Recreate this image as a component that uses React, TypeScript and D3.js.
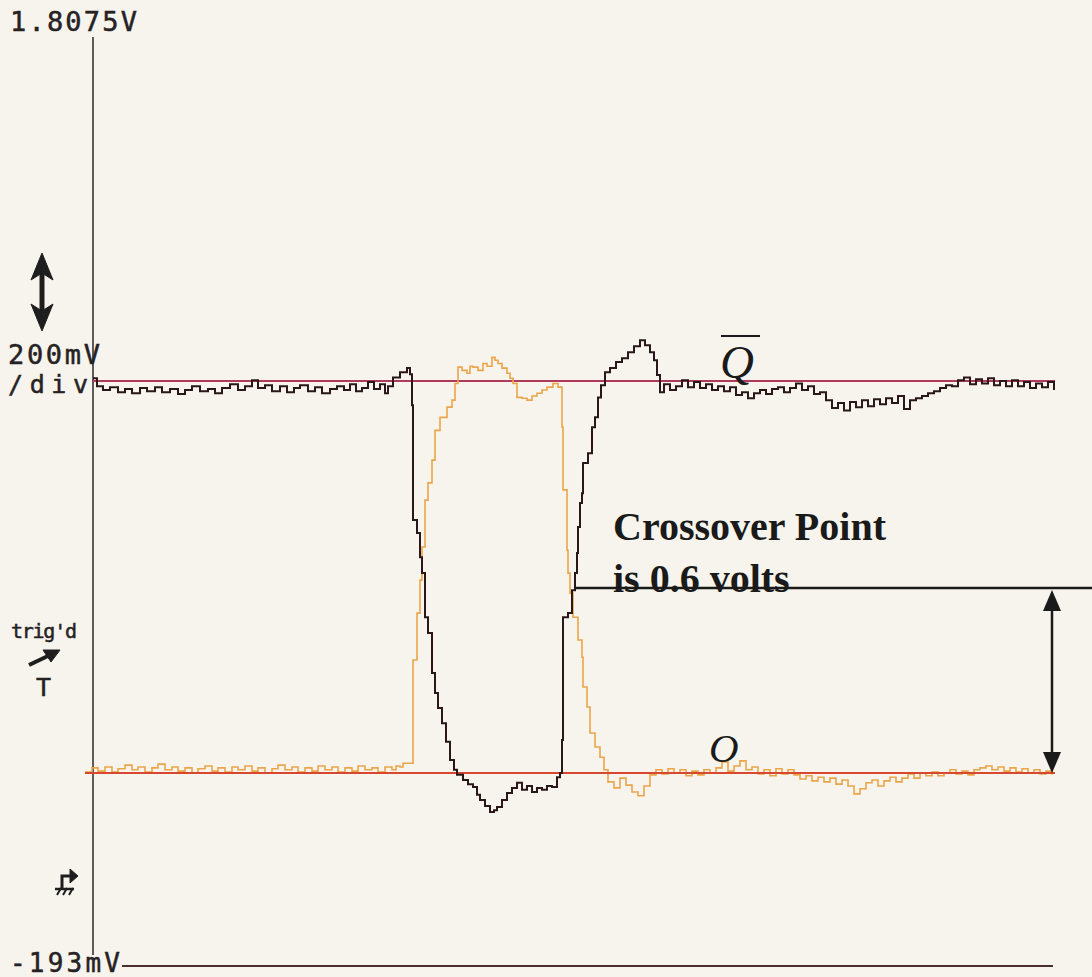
import React, { useEffect } from 'react';
import * as d3 from 'd3';

// Time in samples, voltage in mV
const qBarTrace: [number, number][] = [
  [0,1069],[4,1052],[10,1044],[17,1050],[25,1039],[32,1046],[39,1037],[47,1048],[54,1041],[62,1050],
  [69,1039],[77,1046],[85,1035],[92,1044],[99,1052],[107,1041],[115,1046],[122,1037],[129,1048],[137,1056],
  [145,1044],[152,1052],[159,1065],[165,1048],[172,1054],[179,1041],[187,1052],[194,1039],[201,1048],[207,1054],
  [215,1041],[222,1050],[229,1037],[237,1046],[244,1052],[251,1044],[257,1056],[263,1041],[269,1048],[275,1061],
  [281,1046],[287,1056],[292,1037],[295,1052],[300,1071],[307,1082],[314,1091],[317,1078],[319,1011],[320,764],
  [324,736],[327,684],[329,650],[332,555],[335,521],[339,435],[342,392],[345,360],[349,327],[353,287],
  [357,248],[361,227],[364,216],[370,205],[375,196],[380,190],[384,173],[387,162],[392,149],[397,136],
  [401,140],[404,147],[409,162],[414,177],[419,188],[424,199],[429,184],[434,192],[439,179],[444,188],
  [449,184],[454,192],[459,190],[464,211],[467,220],[469,291],[470,555],[475,564],[479,613],[482,650],
  [484,693],[485,749],[487,801],[489,822],[490,887],[495,908],[499,964],[502,985],[505,1028],[508,1054],
  [512,1082],[517,1091],[523,1104],[529,1112],[535,1125],[541,1138],[547,1151],[552,1140],[557,1125],[561,1108],
  [564,1076],[567,1039],[571,1056],[577,1044],[583,1052],[589,1065],[595,1050],[601,1061],[607,1048],[613,1056],
  [619,1044],[625,1052],[631,1041],[637,1050],[643,1033],[649,1039],[655,1026],[661,1037],[667,1044],[673,1035],
  [679,1046],[685,1050],[691,1039],[697,1048],[703,1058],[709,1044],[715,1052],[721,1035],[727,1039],[733,1022],
  [739,1005],[745,1016],[751,1000],[757,1018],[763,1007],[769,1022],[775,1009],[781,1024],[787,1013],[793,1026],
  [799,1016],[805,1031],[811,1003],[817,1022],[823,1026],[829,1031],[835,1037],[841,1041],[847,1048],[853,1054],
  [859,1052],[865,1065],[871,1071],[877,1056],[883,1067],[889,1058],[895,1069],[901,1054],[907,1063],[913,1052],
  [919,1065],[925,1052],[931,1061],[937,1048],[943,1058],[949,1050],[955,1061],[961,1044],
];

const oTrace: [number, number][] = [
  [-8,222],[-1,231],[5,224],[12,233],[19,222],[25,229],[32,237],[39,227],[45,233],[52,222],
  [59,231],[65,239],[72,227],[79,233],[85,224],[92,231],[99,220],[105,229],[112,235],[119,224],
  [125,231],[132,222],[139,233],[145,227],[152,235],[159,224],[165,231],[172,220],[179,229],[185,237],
  [192,227],[199,233],[205,222],[212,231],[219,224],[225,235],[232,227],[239,233],[245,222],[252,231],
  [259,224],[265,235],[272,227],[279,231],[285,222],[292,233],[299,227],[303,235],[307,233],[310,241],
  [319,241],[320,463],[324,564],[327,635],[329,706],[332,807],[335,844],[339,893],[342,957],[347,985],
  [354,1007],[359,1022],[362,1058],[365,1093],[369,1086],[374,1080],[377,1095],[380,1093],[385,1086],[390,1101],
  [394,1095],[399,1114],[402,1108],[405,1101],[409,1091],[414,1080],[417,1069],[420,1058],[424,1028],[429,1026],
  [434,1022],[439,1031],[444,1037],[449,1044],[454,1050],[460,1058],[465,1050],[469,964],[470,829],[474,699],
  [475,650],[477,607],[480,555],[485,506],[489,469],[490,405],[494,362],[497,306],[502,276],[507,254],
  [511,227],[515,201],[521,188],[527,209],[533,194],[539,179],[545,171],[551,192],[557,216],[563,227],
  [569,218],[575,229],[581,220],[587,227],[593,214],[599,224],[605,216],[611,227],[617,220],[623,231],
  [629,244],[635,224],[641,235],[647,246],[653,227],[659,233],[665,218],[671,227],[677,214],[683,229],
  [689,218],[695,227],[701,216],[707,207],[713,214],[719,203],[725,211],[731,201],[737,209],[743,196],
  [749,205],[755,192],[761,175],[767,186],[773,199],[779,205],[785,192],[791,203],[797,211],[803,201],
  [809,209],[815,218],[821,209],[827,220],[833,214],[839,222],[845,214],[851,220],[857,227],[863,218],
  [869,224],[875,216],[881,227],[887,231],[893,235],[899,227],[905,233],[911,224],[917,231],[923,222],
  [929,229],[935,220],[941,227],[947,218],[953,224],[959,216],
];

const highLevel = 1063; // mV, Q-bar reference marker
const lowLevel = 220; // mV, Q reference marker
const crossoverLevel = 618; // mV
const timeDomain: [number, number] = [0, 962];
const voltDomain: [number, number] = [-193, 1807.5];
const topLabel = '1.8075V';
const bottomLabel = '-193mV';
const scaleLabels = ['200mV', '/div'];
const noteLines = ['Crossover Point', 'is 0.6 volts'];
const crossoverSpan: [number, number] = [482, 999];
const arrowTime = 959;

export default function App() {
  useEffect(() => {
    document.body.style.margin = '0';
  }, []);
  const W = 1092, H = 977;
  const x = d3.scaleLinear().domain(timeDomain).range([93, 1055]);
  const y = d3.scaleLinear().domain(voltDomain).range([965, 35]);
  const line = d3.line<[number, number]>().x(d => x(d[0])).y(d => y(d[1])).curve(d3.curveStepAfter);
  const mono = 'DejaVu Sans Mono, monospace';
  const serif = 'Liberation Serif, Times New Roman, serif';
  const ax = x(arrowTime);
  const yc = y(crossoverLevel);
  const yl = y(lowLevel);
  const ink = '#262224';
  return (
    <svg width={W} height={H} style={{ position: 'absolute', left: 0, top: 0, display: 'block' }}>
      <rect x={0} y={0} width={W} height={H} fill="#f6f4ec" />
      {/* axis */}
      <line x1={x(0)} x2={x(0)} y1={y(voltDomain[1]) + 2} y2={y(voltDomain[0]) - 10} stroke="#3a3333" strokeWidth={1.6} />
      <line x1={122} x2={x(960)} y1={y(voltDomain[0]) + 1} y2={y(voltDomain[0]) + 1} stroke="#4a2e30" strokeWidth={2} />
      {/* labels */}
      <g fill={ink} stroke={ink} strokeWidth={0.5} fontFamily={mono}>
        <text x={10} y={31} fontSize={27} textLength={127} lengthAdjust="spacing">{topLabel}</text>
        <text x={8} y={364} fontSize={27} textLength={92} lengthAdjust="spacing">{scaleLabels[0]}</text>
        <text x={8} y={393} fontSize={25} textLength={80} lengthAdjust="spacing">{scaleLabels[1]}</text>
        <text x={10} y={972} fontSize={26} textLength={110} lengthAdjust="spacing">{bottomLabel}</text>
        <text x={11} y={638} fontSize={20} textLength={66} lengthAdjust="spacing">trig'd</text>
        <text x={36} y={696} fontSize={25}>T</text>
      </g>
      {/* left double arrow */}
      <g fill="#1e1e1e" stroke="#1e1e1e">
        <line x1={42} x2={42} y1={262} y2={322} strokeWidth={5} />
        <path d="M42,253 L31,280 L42,273 L53,280 Z" />
        <path d="M42,331 L31,304 L42,311 L53,304 Z" />
        {/* trig arrow */}
        <line x1={29} y1={665} x2={50} y2={655} strokeWidth={4} />
        <path d="M60,650 L43,650 L51,662 Z" />
        {/* ground-ish symbol */}
        <path d="M62,888 L62,876 L71,876" fill="none" strokeWidth={3} />
        <path d="M78,876 L70,869 L70,883 Z" />
        <line x1={55} y1={889} x2={74} y2={889} strokeWidth={2.5} />
        <line x1={57} y1={895} x2={61} y2={888} strokeWidth={2} />
        <line x1={63} y1={895} x2={67} y2={888} strokeWidth={2} />
        <line x1={69} y1={895} x2={73} y2={888} strokeWidth={2} />
      </g>
      {/* reference marker lines */}
      <line x1={x(0)} x2={x(962)} y1={y(highLevel)} y2={y(highLevel)} stroke="#b03a5c" strokeWidth={2} />
      {/* traces */}
      <path d={line(oTrace) || ''} fill="none" stroke="#eaa54a" strokeWidth={1.6} />
      <line x1={x(-8)} x2={x(962)} y1={y(lowLevel)} y2={y(lowLevel)} stroke="#d8482e" strokeWidth={2} />
      <path d={line(qBarTrace) || ''} fill="none" stroke="#2a1719" strokeWidth={2} />
      {/* crossover annotation */}
      <line x1={x(crossoverSpan[0])} x2={x(crossoverSpan[1]) + 40} y1={yc} y2={yc} stroke="#1a1a1a" strokeWidth={2.5} />
      <line x1={ax} x2={ax} y1={yc + 16} y2={yl - 16} stroke="#1a1a1a" strokeWidth={2.5} />
      <path d={`M${ax},${yc + 2} L${ax - 9},${yc + 23} L${ax + 9},${yc + 23} Z`} fill="#1a1a1a" />
      <path d={`M${ax},${yl} L${ax - 9},${yl - 21} L${ax + 9},${yl - 21} Z`} fill="#1a1a1a" />
      <text x={613} y={540} fontFamily={serif} fontWeight="bold" fontSize={40} fill="#1a1a1a">{noteLines[0]}</text>
      <text x={613} y={592} fontFamily={serif} fontWeight="bold" fontSize={40} fill="#1a1a1a">{noteLines[1]}</text>
      {/* signal labels */}
      <text x={720} y={378} fontFamily={serif} fontStyle="italic" fontSize={47} fill="#1a1a1a">Q</text>
      <line x1={721} x2={760} y1={336} y2={336} stroke="#1a1a1a" strokeWidth={2} />
      <text x={709} y={762} fontFamily={serif} fontStyle="italic" fontSize={41} fill="#1a1a1a">O</text>
    </svg>
  );
}
